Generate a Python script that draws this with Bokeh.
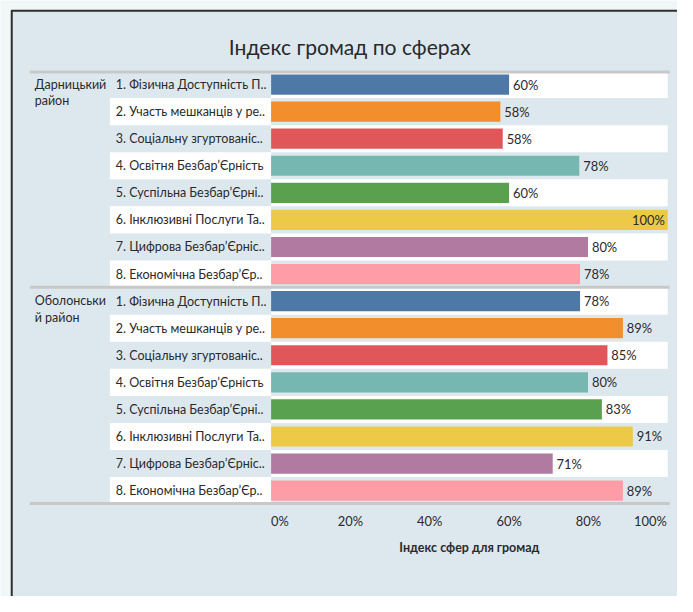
from bokeh.plotting import figure
from bokeh.models import Range1d, ColumnDataSource
from bokeh.core.properties import value
from bokeh.embed import file_html
from bokeh.resources import INLINE

# ---------------- data ----------------
title_text = "Індекс громад по сферах"
x_title = "Індекс сфер для громад"
districts = ["Дарницький\nрайон", "Оболонськи\nй район"]
spheres = [
    "1. Фізична Доступність П..",
    "2. Участь мешканців у ре..",
    "3. Соціальну згуртованіс..",
    "4. Освітня Безбар’Єрність",
    "5. Суспільна Безбар’Єрні..",
    "6. Інклюзивні Послуги Та..",
    "7. Цифрова Безбар’Єрніс..",
    "8. Економічна Безбар’Єр..",
]
darnytskyi = [60.0, 57.8, 58.4, 77.7, 60.0, 100.0, 79.9, 77.9]
obolonskyi = [77.9, 88.7, 84.8, 79.9, 83.4, 91.2, 71.0, 88.7]
sphere_colors = ["#4e79a7", "#f28e2b", "#e15759", "#76b7b2",
                 "#59a14f", "#edc948", "#b07aa1", "#ff9da7"]
ticks = [0, 20, 40, 60, 80, 100]

# ---------------- layout (reference pixel frame 693x612) ----------------
REF_W, REF_H = 693.0, 612.0
W, H = 677, 596
SC = W / REF_W
X0, X100 = 277.0, 683.0
ROW0, ROWH = 86.3, 27.8
FONT = "Lato"
TXT = "#2a2a2a"
OUTER = "#f1f7f7"
INNER = "#dde8ee"
WHITE = "#ffffff"
SEP = "#c8c8c8"


def px(rx):
    return (rx - X0) / (X100 - X0) * 100.0


def py(ry):
    return (ry - ROW0) / ROWH


def fs(size):
    return f"{size * SC:.2f}px"


UNIT = (X100 - X0) / 100.0  # reference px per percent

p = figure(width=W, height=H, output_backend="svg", toolbar_location=None, tools="",
           x_range=Range1d(px(0), px(REF_W)), y_range=Range1d(py(REF_H), py(0)),
           x_axis_location=None, y_axis_location=None, min_border=0,
           outline_line_color=None, background_fill_color=OUTER,
           border_fill_color=OUTER)
p.grid.visible = False

# inner background and frame border
p.quad(left=px(11), right=px(720), top=py(10), bottom=py(720),
       fill_color=INNER, line_color=None)
p.line(x=[px(11), px(720)], y=[py(10.5), py(10.5)], line_color="#2e2e2e", line_width=2)
p.line(x=[px(11.5), px(11.5)], y=[py(10), py(720)], line_color="#2e2e2e", line_width=2)

n = len(spheres)
rows = list(range(2 * n))
values = darnytskyi + obolonskyi
colors = sphere_colors * 2
labels = list(spheres) * 2

# banding
lab_rows = [r for r in rows if (r % n) % 2 == 1]
plot_rows = [r for r in rows if (r % n) % 2 == 0]
p.quad(left=px(112), right=px(277), top=[r - 0.5 for r in lab_rows],
       bottom=[r + 0.5 for r in lab_rows], fill_color=WHITE, line_color=None)
p.quad(left=px(277), right=px(683), top=[r - 0.5 for r in plot_rows],
       bottom=[r + 0.5 for r in plot_rows], fill_color=WHITE, line_color=None)

# separators
for yy in [73.5, 294.5, 516.5]:
    p.line(x=[px(30), px(685)], y=[py(yy), py(yy)], line_color=SEP, line_width=3)

# bars
src = ColumnDataSource(dict(y=rows, v=values, c=colors, lab=labels))
p.hbar(y="y", left=0, right="v", height=0.745, fill_color="c", line_color=None, source=src)

# value labels
out_idx = [i for i, v in enumerate(values) if v < 95]
in_idx = [i for i, v in enumerate(values) if v >= 95]
p.text(x=[values[i] + 4 / UNIT for i in out_idx], y=[rows[i] for i in out_idx],
       text=[f"{round(values[i])}%" for i in out_idx], text_align="left",
       text_baseline="middle", text_font=value(FONT), text_font_size=fs(13.2),
       text_color=TXT)
p.text(x=[values[i] - 3 / UNIT for i in in_idx], y=[rows[i] for i in in_idx],
       text=[f"{round(values[i])}%" for i in in_idx], text_align="right",
       text_baseline="middle", text_font=value(FONT), text_font_size=fs(13.2),
       text_color=TXT)

# row labels
p.text(x=px(118), y="y", text="lab", source=src, text_align="left",
       text_baseline="middle", text_font=value(FONT), text_font_size=fs(12.8),
       text_color=TXT)

# district labels (one text per wrapped line)
d_x, d_y, d_t = [], [], []
for g, name in enumerate(districts):
    for k, line in enumerate(name.split("\n")):
        d_x.append(px(35))
        d_y.append(g * n + py(86 + 17 * k))
        d_t.append(line)
p.text(x=d_x, y=d_y, text=d_t, text_align="left", text_baseline="middle",
       text_font=value(FONT), text_font_size=fs(12.8), text_color=TXT)

# tick labels
tick_y = py(534)
p.text(x=[ticks[0]], y=[tick_y], text=[f"{ticks[0]}%"], text_align="left",
       text_baseline="middle", text_font=value(FONT), text_font_size=fs(13.2), text_color=TXT)
p.text(x=ticks[1:-1], y=[tick_y] * (len(ticks) - 2), text=[f"{t}%" for t in ticks[1:-1]],
       text_align="center", text_baseline="middle", text_font=value(FONT),
       text_font_size=fs(13.2), text_color=TXT)
p.text(x=[ticks[-1] - 1 / UNIT], y=[tick_y], text=[f"{ticks[-1]}%"], text_align="right",
       text_baseline="middle", text_font=value(FONT), text_font_size=fs(13.2), text_color=TXT)

# axis title
p.text(x=[(ticks[0] + ticks[-1]) / 2], y=[py(562)], text=[x_title], text_align="center",
       text_baseline="middle", text_font=value(FONT), text_font_size=fs(12.8),
       text_font_style="bold", text_color=TXT)

# chart title
p.text(x=[px(357.5)], y=[py(47)], text=[title_text], text_align="center",
       text_baseline="middle", text_font=value(FONT), text_font_size=fs(21.6), text_color=TXT)

open("out.html", "w").write(file_html(p, INLINE))
